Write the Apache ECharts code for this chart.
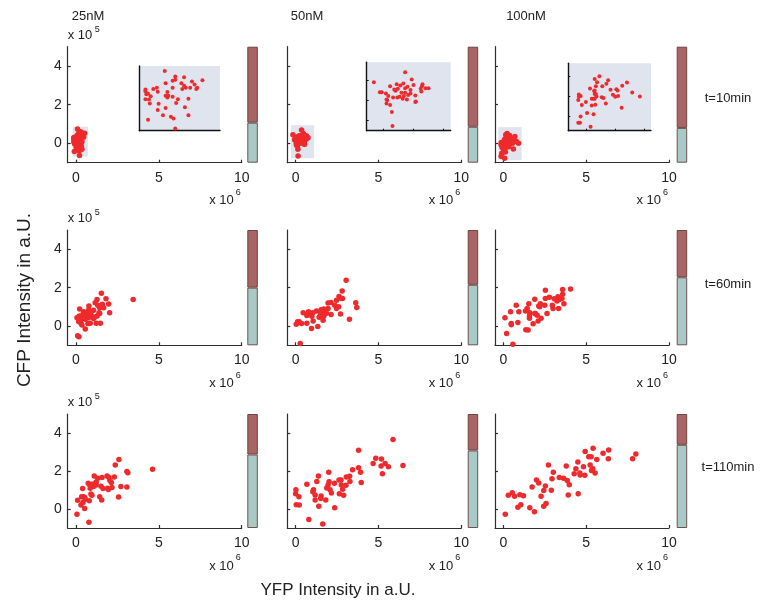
<!DOCTYPE html>
<html>
<head>
<meta charset="utf-8">
<script src="https://cdn.jsdelivr.net/npm/echarts@6/dist/echarts.min.js"></script>
<style>
  html, body { margin: 0; padding: 0; background: #ffffff; }
  #chart { width: 778px; height: 608px; }
</style>
</head>
<body>
<div id="chart"></div>
<script>
// ---- data -------------------------------------------------------------
const concentrations = ['25nM', '50nM', '100nM'];
const timepoints = ['t=10min', 't=60min', 't=110min'];
const xTicks = [0, 5, 10];
const yTicks = [0, 2, 4];
const insetYTicks = [-0.5, 0, 0.5];
const insetXTicks = [0, 0.5, 1];

// single cells: [YFP (x10^6), CFP (x10^5)]
const cells10_25 = [[0.09,0.74],[0.21,0.61],[0.31,0.59],[0.52,0.52],[0.18,0.51],[0.10,0.45],[0.40,0.49],[0.21,0.53],[0.28,0.45],[0.31,0.39],[0.43,0.42],[0.38,0.34],[0.33,0.34],[0.29,0.31],[0.46,0.34],[0.45,0.31],[-0.04,0.31],[0.00,0.34],[-0.13,0.30],[-0.13,0.26],[0.18,0.34],[0.01,0.25],[0.12,0.24],[-0.12,0.19],[-0.10,0.20],[0.10,0.15],[0.13,0.15],[0.12,0.11],[0.18,0.13],[0.24,0.07],[0.36,0.08],[-0.07,0.14],[-0.13,0.07],[-0.09,0.06],[0.02,-0.04],[-0.08,-0.03],[0.22,-0.02],[0.10,-0.14],[0.32,-0.12],[0.01,-0.19],[0.36,-0.31],[0.07,-0.31],[0.16,-0.35],[0.19,-0.39],[-0.10,-0.42],[0.21,-0.63]];
const cells10_50 = [[0.36,0.69],[-0.16,0.44],[0.47,0.51],[0.22,0.39],[0.33,0.41],[0.11,0.34],[0.40,0.33],[0.65,0.39],[0.64,0.34],[0.50,0.37],[0.28,0.36],[0.18,0.26],[0.20,0.23],[0.24,0.28],[0.36,0.29],[0.45,0.25],[0.62,0.28],[0.70,0.29],[0.75,0.29],[0.63,0.21],[-0.06,0.19],[-0.03,0.19],[0.04,0.16],[0.30,0.18],[0.36,0.18],[0.45,0.16],[0.08,0.10],[0.27,0.08],[0.34,0.10],[0.41,0.12],[0.53,0.11],[0.16,0.06],[0.23,0.06],[0.32,0.03],[0.39,0.01],[0.05,0.01],[0.06,-0.01],[0.54,-0.04],[0.53,-0.05],[0.05,-0.09],[0.11,-0.13],[0.14,-0.30],[0.15,-0.65]];
const cells10_100 = [[0.23,0.51],[0.15,0.44],[0.38,0.41],[0.19,0.36],[0.35,0.32],[0.70,0.35],[0.62,0.27],[0.28,0.26],[0.17,0.26],[0.07,0.20],[0.42,0.17],[0.54,0.15],[0.52,0.18],[0.15,0.15],[0.14,0.14],[0.79,0.10],[0.15,0.06],[0.17,0.06],[-0.12,0.05],[-0.09,0.01],[-0.12,-0.01],[0.18,0.00],[0.10,-0.06],[0.13,-0.06],[0.15,-0.06],[0.27,-0.02],[0.30,-0.04],[0.46,0.04],[0.50,-0.01],[0.55,0.01],[0.00,-0.14],[-0.13,-0.09],[0.34,-0.18],[-0.07,-0.22],[0.10,-0.23],[0.16,-0.21],[0.61,-0.29],[0.02,-0.42],[0.13,-0.45],[-0.09,-0.51],[-0.13,-0.67],[-0.10,-0.67],[0.08,-0.77],[0.92,0.00]];

const cells60_25 = [[1.53,1.71],[3.45,1.38],[1.27,1.38],[1.81,1.42],[1.16,1.21],[1.59,1.13],[1.97,1.15],[1.31,1.08],[1.51,1.04],[1.67,0.96],[0.78,1.04],[0.22,0.89],[0.76,0.84],[0.46,0.75],[1.06,0.82],[1.39,0.70],[1.43,0.65],[2.03,0.70],[0.06,0.44],[0.20,0.53],[0.42,0.62],[0.62,0.53],[0.82,0.58],[0.96,0.50],[1.12,0.46],[0.36,0.44],[0.56,0.36],[0.26,0.31],[0.72,0.14],[0.86,0.15],[1.22,0.15],[1.47,0.15],[0.30,0.15],[0.36,0.05],[0.56,-0.15],[0.10,-0.50],[0.18,-0.55],[0.66,0.67],[0.90,0.70],[0.50,0.53],[0.76,0.43],[0.16,0.24],[1.06,0.39],[1.27,0.53],[1.43,0.96]];
const cells60_50 = [[3.05,2.39],[2.81,1.83],[2.62,1.54],[2.70,1.45],[2.83,1.44],[2.47,1.35],[3.63,1.21],[3.69,0.97],[2.14,1.23],[1.96,1.20],[2.36,1.08],[2.60,1.01],[2.47,0.91],[1.96,0.92],[1.70,0.89],[1.54,0.85],[1.78,0.77],[1.52,0.70],[1.42,0.46],[1.70,0.51],[1.66,0.31],[2.14,0.60],[2.71,0.63],[3.25,0.36],[1.04,0.70],[0.86,0.67],[0.46,0.70],[0.68,0.55],[0.98,0.51],[1.06,0.26],[0.96,-0.12],[1.34,-0.02],[0.22,0.22],[0.04,0.10],[0.36,0.14],[0.68,0.15],[0.12,0.22],[0.28,-0.91],[1.46,0.50],[1.86,0.67],[1.26,0.79],[0.78,0.74]];
const cells60_100 = [[4.06,1.93],[3.58,1.91],[2.54,1.86],[3.58,1.66],[3.30,1.52],[3.08,1.42],[3.54,1.44],[2.78,1.50],[3.24,1.30],[3.66,1.16],[3.34,0.92],[2.54,1.44],[1.90,1.40],[2.24,1.16],[2.20,1.01],[2.14,1.04],[2.50,1.09],[2.96,1.09],[1.54,1.16],[1.44,0.92],[1.34,0.79],[1.60,0.70],[1.94,0.65],[2.04,0.56],[2.64,0.65],[2.28,0.41],[2.10,0.27],[1.80,0.12],[1.58,0.41],[1.58,0.53],[0.94,0.75],[0.78,1.08],[0.44,0.74],[0.10,0.44],[0.48,0.14],[0.48,0.07],[0.88,0.19],[0.20,-0.38],[0.58,-0.94],[1.36,-0.19],[1.50,-0.21],[1.90,0.65],[3.00,0.92],[3.38,1.38]];

const cells110_25 = [[2.59,2.60],[2.37,2.31],[4.62,2.09],[3.07,1.98],[3.13,1.91],[2.31,1.68],[1.87,1.74],[1.99,1.66],[2.05,1.50],[2.13,1.40],[2.17,1.13],[1.95,1.03],[1.91,1.09],[2.71,1.18],[3.07,1.16],[2.57,0.63],[1.10,1.74],[1.31,1.62],[1.57,1.66],[1.22,1.42],[1.10,1.32],[1.22,1.26],[0.96,1.30],[1.06,1.18],[0.86,1.09],[0.74,1.35],[0.82,1.28],[1.51,1.20],[1.63,1.08],[1.43,0.65],[1.55,0.48],[0.90,0.79],[0.96,0.72],[0.40,1.08],[0.10,0.46],[0.34,0.65],[0.46,0.65],[0.52,0.60],[0.42,0.34],[0.30,0.21],[0.56,0.51],[0.80,0.43],[0.52,0.03],[0.06,-0.27],[0.78,-0.70]];
const cells110_50 = [[5.88,3.66],[3.80,3.09],[4.84,2.67],[5.18,2.63],[4.68,2.39],[5.40,2.39],[5.16,2.26],[5.60,2.22],[6.48,2.29],[5.24,1.86],[3.80,2.17],[3.44,2.07],[3.92,1.93],[3.96,1.40],[2.00,1.93],[1.38,1.74],[1.28,1.45],[3.06,1.68],[3.26,1.73],[2.62,1.52],[2.74,1.52],[3.28,1.45],[2.34,1.35],[2.02,1.44],[1.96,1.26],[1.88,1.11],[2.08,1.01],[2.16,0.84],[2.76,1.26],[2.84,1.04],[3.04,1.25],[2.64,0.80],[2.90,0.72],[0.68,1.30],[0.02,1.01],[0.00,0.80],[0.20,0.65],[1.08,1.01],[1.04,0.91],[1.18,0.74],[1.54,0.68],[1.52,0.55],[1.18,0.48],[1.82,0.48],[1.40,0.14],[0.04,0.22],[0.22,0.21],[2.36,0.07],[0.80,-0.55],[1.64,-0.79]];
const cells110_100 = [[8.00,2.89],[7.80,2.65],[5.42,3.20],[6.36,3.11],[6.02,2.94],[4.94,3.03],[5.16,2.75],[5.30,2.75],[5.64,2.60],[6.34,2.65],[4.50,2.48],[5.24,2.31],[4.84,2.22],[4.38,2.12],[3.80,2.26],[5.40,2.12],[5.32,2.03],[5.54,1.90],[4.62,1.90],[4.64,1.79],[4.92,1.78],[4.28,1.86],[3.38,1.66],[3.64,1.62],[3.86,1.50],[3.98,1.28],[3.92,0.74],[4.52,0.80],[2.72,2.31],[3.02,1.93],[2.94,1.59],[2.00,1.52],[2.14,1.37],[1.74,1.16],[2.54,1.21],[2.44,0.97],[2.90,0.99],[2.28,0.67],[2.58,0.29],[2.44,0.14],[1.60,0.07],[1.88,-0.14],[0.30,0.72],[0.54,0.85],[0.68,0.67],[1.00,0.75],[1.22,0.70],[0.88,0.09],[1.06,0.22],[0.12,-0.27]];

// zoom windows of the t=10min insets: [xMin, xMax, yMin, yMax]
const zoom25 = [-0.20, 0.72, -0.68, 0.86];
const zoom50 = [-0.28, 1.12, -0.77, 0.94];
const zoom100 = [-0.30, 1.11, -0.87, 0.84];

// stacked bar shares per panel (lower = teal, upper = brown)
const lower10 = [0.345, 0.31, 0.30];
const upper10 = [0.655, 0.69, 0.70];
const lower60 = [0.50, 0.525, 0.59];
const upper60 = [0.50, 0.475, 0.41];
const lower110 = [0.645, 0.68, 0.73];
const upper110 = [0.355, 0.32, 0.27];

// ---- layout -----------------------------------------------------------
const panelData = [
  [cells10_25, cells10_50, cells10_100],
  [cells60_25, cells60_50, cells60_100],
  [cells110_25, cells110_50, cells110_100]
];
const zooms = [zoom25, zoom50, zoom100];
const lowerShares = [lower10, lower60, lower110];
const upperShares = [upper10, upper60, upper110];

const colLeft = [67.7, 287.3, 495];
const plotW = 174;
const rowTop = [46.7, 230, 414];
const rowH = [116, 115.3, 114];
const barLeft = [247.3, 467.7, 676.7];
const barW = 10.5;
const insetBox = [
  { left: 139.3, top: 66, width: 80.7, height: 64.7 },
  { left: 366.7, top: 62.3, width: 84, height: 68.4 },
  { left: 568.3, top: 63.3, width: 82.7, height: 67.4 }
];

const RED = '#ee2a2c';
const AXIS = '#2e2e2e';
const FONT = '"Liberation Sans", Arial, sans-serif';
const INSET_BG = '#dfe4ef';

const grids = [], xAxes = [], yAxes = [], series = [], graphics = [];

function axisBase(extra) {
  return Object.assign({
    type: 'value',
    splitLine: { show: false },
    axisLine: { show: true, onZero: false, lineStyle: { color: AXIS, width: 1.2 } },
    axisTick: { show: true, inside: true, length: 3, lineStyle: { color: AXIS, width: 1.2 } },
    axisLabel: { show: false }
  }, extra);
}

for (let r = 0; r < 3; r++) {
  for (let c = 0; c < 3; c++) {
    // main scatter panel
    const gi = grids.length;
    grids.push({ left: colLeft[c], top: rowTop[r], width: plotW, height: rowH[r], containLabel: false, outerBoundsMode: 'none' });
    xAxes.push(axisBase({
      gridIndex: gi, min: -0.5, max: 10,
      axisTick: { show: true, inside: true, length: 3, customValues: xTicks, lineStyle: { color: AXIS, width: 1.2 } },
      axisLabel: { show: true, customValues: xTicks, margin: 8, color: '#222', fontSize: 14, fontFamily: FONT }
    }));
    yAxes.push(axisBase({
      gridIndex: gi, min: -1, max: 5,
      axisTick: { show: true, inside: true, length: 3, customValues: yTicks, lineStyle: { color: AXIS, width: 1.2 } },
      axisLabel: { show: c === 0, customValues: yTicks, margin: 6, color: '#222', fontSize: 14, fontFamily: FONT }
    }));
    const s = {
      type: 'scatter', xAxisIndex: gi, yAxisIndex: gi,
      data: panelData[r][c], symbolSize: 5.5, silent: true,
      itemStyle: { color: RED, opacity: 1 }, z: 3
    };
    if (r === 0) {
      const zw = zooms[c];
      s.markArea = {
        silent: true,
        itemStyle: { color: INSET_BG, opacity: 1 },
        data: [[{ coord: [zw[0], zw[3]] }, { coord: [zw[1], zw[2]] }]]
      };
    }
    series.push(s);

    // stacked share bar
    const bi = grids.length;
    grids.push({ left: barLeft[c], top: rowTop[r], width: barW, height: rowH[r], containLabel: false, outerBoundsMode: 'none' });
    xAxes.push({ type: 'category', gridIndex: bi, data: ['share'], show: false });
    yAxes.push({ type: 'value', gridIndex: bi, min: 0, max: 1, show: false });
    series.push({
      type: 'bar', stack: 'share' + r + c, xAxisIndex: bi, yAxisIndex: bi,
      data: [lowerShares[r][c]], barWidth: '100%', silent: true,
      itemStyle: { color: '#a8c9c6', borderColor: '#6e5050', borderWidth: 1 }
    });
    series.push({
      type: 'bar', stack: 'share' + r + c, xAxisIndex: bi, yAxisIndex: bi,
      data: [upperShares[r][c]], barWidth: '100%', silent: true,
      itemStyle: { color: '#a96464', borderColor: '#6e4444', borderWidth: 1 }
    });
  }
}

// zoomed insets of the t=10min clusters
for (let c = 0; c < 3; c++) {
  const zw = zooms[c];
  const ii = grids.length;
  grids.push(Object.assign({ show: true, backgroundColor: INSET_BG, borderWidth: 0, containLabel: false, outerBoundsMode: 'none' }, insetBox[c]));
  const ticks = c > 0;
  xAxes.push(axisBase({
    gridIndex: ii, min: zw[0], max: zw[1],
    axisLine: { show: true, onZero: false, lineStyle: { color: '#111', width: 1.4 } },
    axisTick: { show: ticks, inside: true, length: 2, customValues: insetXTicks, lineStyle: { color: '#111', width: 1 } }
  }));
  yAxes.push(axisBase({
    gridIndex: ii, min: zw[2], max: zw[3],
    axisLine: { show: true, onZero: false, lineStyle: { color: '#111', width: 1.4 } },
    axisTick: { show: ticks, inside: true, length: 2, customValues: insetYTicks, lineStyle: { color: '#111', width: 1 } }
  }));
  series.push({
    type: 'scatter', xAxisIndex: ii, yAxisIndex: ii,
    data: panelData[0][c], symbolSize: 4, silent: true,
    itemStyle: { color: RED, opacity: 1 }, z: 4
  });
}

// ---- texts ------------------------------------------------------------
const titleX = [88, 307, 526];
concentrations.forEach((t, c) => graphics.push({
  type: 'text', x: titleX[c], y: 16, silent: true,
  style: { text: t, font: '13px ' + FONT, fill: '#222', align: 'center', verticalAlign: 'middle' }
}));
const rowLabelY = [98, 284, 467];
timepoints.forEach((t, r) => graphics.push({
  type: 'text', x: 728, y: rowLabelY[r], silent: true,
  style: { text: t, font: '13px ' + FONT, fill: '#222', align: 'center', verticalAlign: 'middle' }
}));
for (let r = 0; r < 3; r++) {
  // y multiplier, left column only
  graphics.push({ type: 'text', x: colLeft[0], y: rowTop[r] - 11.5, silent: true,
    style: { text: 'x 10', font: '13px ' + FONT, fill: '#222', align: 'left', verticalAlign: 'middle' } });
  graphics.push({ type: 'text', x: colLeft[0] + 27, y: rowTop[r] - 17, silent: true,
    style: { text: '5', font: '9px ' + FONT, fill: '#222', align: 'left', verticalAlign: 'middle' } });
  // x multiplier under every panel
  for (let c = 0; c < 3; c++) {
    const xEnd = colLeft[c] + plotW;
    const axisY = rowTop[r] + rowH[r];
    graphics.push({ type: 'text', x: xEnd - 8, y: axisY + 38, silent: true,
      style: { text: 'x 10', font: '13px ' + FONT, fill: '#222', align: 'right', verticalAlign: 'middle' } });
    graphics.push({ type: 'text', x: xEnd - 6, y: axisY + 30, silent: true,
      style: { text: '6', font: '9px ' + FONT, fill: '#222', align: 'left', verticalAlign: 'middle' } });
  }
}
graphics.push({ type: 'text', x: 25, y: 300, rotation: Math.PI / 2, silent: true,
  style: { text: 'CFP Intensity in a.U.', font: '19px ' + FONT, fill: '#222', align: 'center', verticalAlign: 'middle' } });
graphics.push({ type: 'text', x: 338, y: 590, silent: true,
  style: { text: 'YFP Intensity in a.U.', font: '17px ' + FONT, fill: '#222', align: 'center', verticalAlign: 'middle' } });

const chart = echarts.init(document.getElementById('chart'), null, { renderer: 'canvas' });
chart.setOption({
  animation: false,
  backgroundColor: '#ffffff',
  grid: grids,
  xAxis: xAxes,
  yAxis: yAxes,
  series: series,
  graphic: { elements: graphics }
});
</script>
</body>
</html>
